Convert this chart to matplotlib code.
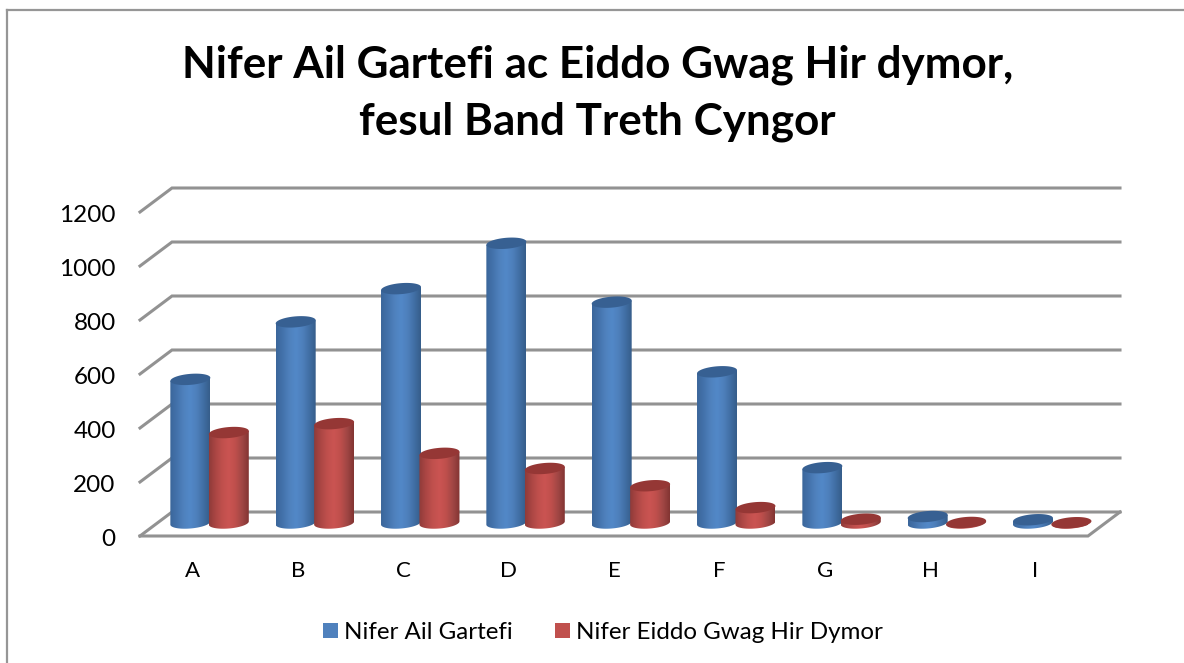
import numpy as np
import matplotlib
matplotlib.use("Agg")
import matplotlib.pyplot as plt
from matplotlib.path import Path
from matplotlib.patches import PathPatch, Rectangle
from matplotlib.colors import LinearSegmentedColormap
from matplotlib.lines import Line2D
from matplotlib.transforms import ScaledTranslation

plt.rcParams['font.family'] = ['Lato', 'DejaVu Sans']

# ---- data ----
categories = ['A', 'B', 'C', 'D', 'E', 'F', 'G', 'H', 'I']
ail_gartefi = [532, 745, 868, 1036, 818, 560, 205, 24, 12]
eiddo_gwag = [335, 368, 258, 202, 138, 57, 14, 2, 1]
series_names = ['Nifer Ail Gartefi', 'Nifer Eiddo Gwag Hir Dymor']
y_ticks = [0, 200, 400, 600, 800, 1000, 1200]
title_text = 'Nifer Ail Gartefi ac Eiddo Gwag Hir dymor,\nfesul Band Treth Cyngor'

W, H = 1184, 663
fig = plt.figure(figsize=(W / 100, H / 100), dpi=100, facecolor='white')

# axes = front plane of the 3-D box
L, R, BOT, TOP = 140, 1088, 536, 212
ax = fig.add_axes([L / W, 1 - BOT / H, (R - L) / W, (BOT - TOP) / H], facecolor='none')
ax.set_xlim(-0.5, 8.5)
ax.set_ylim(0, 1200)
for s in ax.spines.values():
    s.set_visible(False)

px_x = (R - L) / 9          # px per category
px_y = (BOT - TOP) / 1200   # px per value unit
DX = 32 / px_x              # depth offset, in category units
DY = 24 / px_y              # depth offset, in value units

GRID = '#929292'
for v in y_ticks:
    ax.plot([-0.5, -0.5 + DX, 8.5 + DX], [v, v + DY, v + DY], color=GRID, lw=2.2,
            clip_on=False, zorder=1, solid_joinstyle='miter')
ax.plot([-0.5, 8.5, 8.5 + DX], [0, 0, DY], color=GRID, lw=2.2, clip_on=False, zorder=1,
        solid_joinstyle='miter')

ax.set_yticks(y_ticks)
ax.set_yticklabels([str(v) for v in y_ticks], fontsize=17.5, color='black')
ax.set_xticks(range(len(categories)))
ax.set_xticklabels(categories, fontsize=16, color='black')
ax.tick_params(axis='both', length=0)
ax.tick_params(axis='y', pad=17.5)
ax.tick_params(axis='x', pad=18)
for lbl in ax.get_yticklabels():
    lbl.set_transform(lbl.get_transform() + ScaledTranslation(0, -2 / 100, fig.dpi_scale_trans))

blue_cmap = LinearSegmentedColormap.from_list('b', ['#3B669A', '#4372AB', '#4F81BD', '#5288C8', '#4E80BC', '#416FA5', '#365D8A'])
red_cmap = LinearSegmentedColormap.from_list('r', ['#8F3B39', '#AB4644', '#C0504D', '#CB5452', '#BE4F4C', '#A04644', '#823432'])

RX = 20 / px_x
RY = 5.5 / px_y
TILT = 0.08 * px_x / px_y   # value units per category unit
BASE = 13 / px_y            # cylinder base centre above the front edge

def ellipse(xc, yc, n=60):
    t = np.linspace(0, 2 * np.pi, n)
    return xc + RX * np.cos(t), yc + RY * np.sin(t) + TILT * RX * np.cos(t)

def cylinder(xc, value, cmap, top_color, z):
    y0, y1 = BASE, BASE + value
    t = np.linspace(np.pi, 2 * np.pi, 40)      # lower half of the base ellipse
    bx = xc + RX * np.cos(t)
    by = y0 + RY * np.sin(t) + TILT * RX * np.cos(t)
    xs = np.r_[bx, xc + RX, xc - RX, bx[0]]
    ys = np.r_[by, y1 + TILT * RX, y1 - TILT * RX, by[0]]
    clip = PathPatch(Path(np.c_[xs, ys]), transform=ax.transData, fc='none', ec='none', zorder=z)
    ax.add_patch(clip)
    grad = np.linspace(0, 1, 128).reshape(1, -1)
    im = ax.imshow(grad, cmap=cmap, extent=[xc - RX, xc + RX, y0 - 2 * RY - 10, y1 + 2 * RY],
                   aspect='auto', zorder=z, interpolation='bilinear')
    im.set_clip_path(clip)
    ex, ey = ellipse(xc, y1)
    ax.fill(ex, ey, color=top_color, lw=0, zorder=z + 0.1, clip_on=False)

BLUE_OFF = -0.022
RED_OFF = 0.343
for i in range(len(categories)):
    cylinder(i + BLUE_OFF, ail_gartefi[i], blue_cmap, '#376092', 3 + i * 0.01)
    cylinder(i + RED_OFF, eiddo_gwag[i], red_cmap, '#953735', 3.2 + i * 0.01)
ax.set_xlim(-0.5, 8.5)
ax.set_ylim(0, 1200)

# title
fig.text(597.5 / W, 1 - 93.5 / H, title_text, ha='center', va='center', fontsize=31.7,
         fontweight='bold', color='black', linespacing=1.5)

# legend
handles = [Rectangle((0, 0), 1, 1, fc='#4F81BD', ec='none'),
           Rectangle((0, 0), 1, 1, fc='#C0504D', ec='none')]
fig.legend(handles, series_names, loc='center', bbox_to_anchor=(603 / W, 1 - 632.5 / H), ncol=2,
           frameon=False, fontsize=17.4, handlelength=0.62, handleheight=0.62,
           handletextpad=0.25, columnspacing=1.78)

# chart-area border
for xs, ys in [([7, 7], [10, 663]), ([7, 1184], [10, 10])]:
    fig.add_artist(Line2D([x / W for x in xs], [1 - y / H for y in ys], color='#969696', lw=1.6))

fig.savefig('out.png', dpi=100, facecolor='white')
